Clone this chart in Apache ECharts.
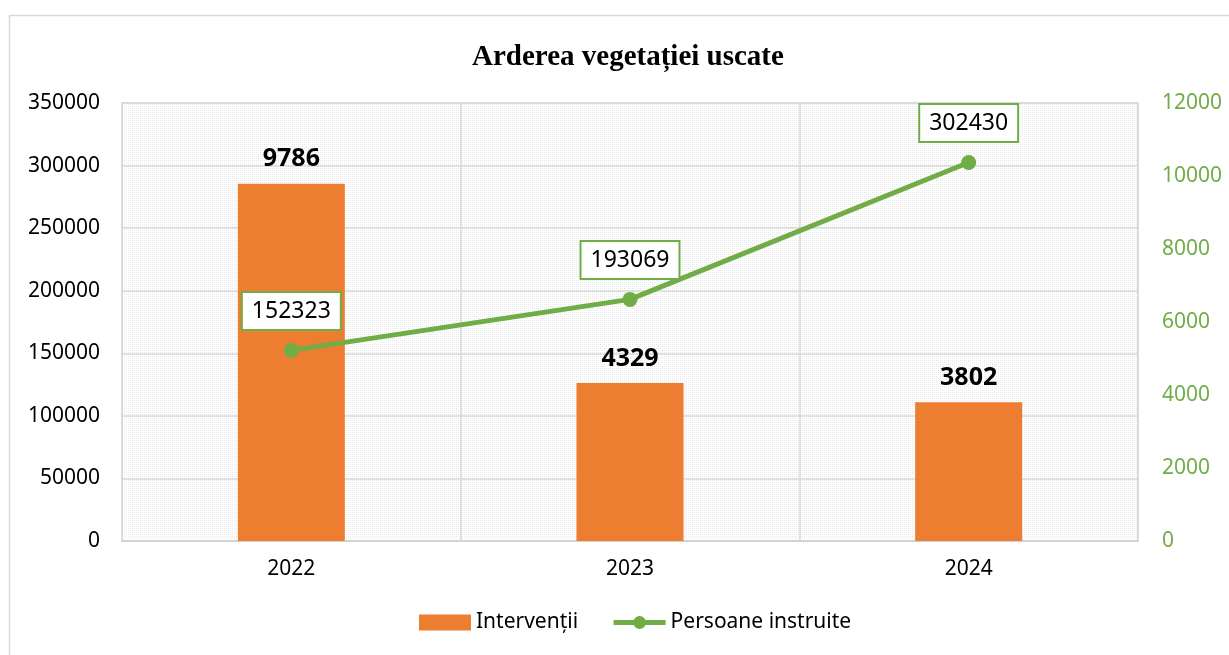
<!DOCTYPE html>
<html>
<head>
<meta charset="utf-8">
<script src="https://cdn.jsdelivr.net/npm/echarts@6/dist/echarts.min.js"></script>
<style>
  html, body {margin: 0; padding: 0; background: #fff;}
  #chart {width: 1229px; height: 655px;}
</style>
</head>
<body>
<div id="chart"></div>
<script>
// date
const years = ['2022', '2023', '2024']
const interventii = [9786, 4329, 3802]
const persoane = [152323, 193069, 302430]

// fundalul hașurat al zonei de plotare
const pat = document.createElement('canvas')
pat.width = 4
pat.height = 4
const ctx = pat.getContext('2d')
ctx.fillStyle = '#ffffff'
ctx.fillRect(0, 0, 4, 4)
ctx.fillStyle = '#e4e4e4'
ctx.fillRect(0, 0, 1, 1)
ctx.fillRect(2, 2, 1, 1)
ctx.fillStyle = '#eeeeee'
ctx.fillRect(2, 0, 1, 1)
ctx.fillRect(0, 2, 1, 1)

const font = 'Noto Sans'
const plain = (v) => String(v)
const chart = echarts.init(document.getElementById('chart'))
chart.setOption({
  backgroundColor: '#fff',
  graphic: [{
    type: 'rect',
    shape: {x: 9.5, y: 15.5, width: 1230, height: 660},
    style: {fill: 'none', stroke: '#d9d9d9', lineWidth: 1.5},
    silent: true,
  }],
  title: {
    text: 'Arderea vegetației uscate',
    left: 467,
    top: 38,
    textStyle: {fontFamily: 'Liberation Serif', fontSize: 29, fontWeight: 'bold', color: '#000'},
  },
  legend: {
    bottom: 17,
    left: 414,
    itemWidth: 52,
    itemHeight: 16,
    itemGap: 33,
    textStyle: {fontFamily: font, fontSize: 21, color: '#000'},
    data: [
      {name: 'Intervenții', icon: 'rect'},
      {name: 'Persoane instruite', lineStyle: {width: 5}},
    ],
  },
  grid: {
    left: 122,
    right: 91,
    top: 103,
    bottom: 114,
    show: true,
    backgroundColor: {image: pat, repeat: 'repeat'},
    borderColor: '#d9d9d9',
    borderWidth: 1.5,
  },
  xAxis: {
    type: 'category',
    data: years,
    axisLine: {lineStyle: {color: '#d0d0d0', width: 1.5}},
    axisTick: {show: false},
    splitLine: {show: true, lineStyle: {color: '#d9d9d9', width: 1.5}},
    axisLabel: {fontFamily: font, fontSize: 21, color: '#000', margin: 18},
  },
  yAxis: [
    {
      type: 'value',
      min: 0,
      max: 350000,
      interval: 50000,
      axisLine: {show: false},
      axisTick: {show: false},
      splitLine: {lineStyle: {color: '#d9d9d9', width: 1.5}},
      axisLabel: {fontFamily: font, fontSize: 21, color: '#000', margin: 22, formatter: plain},
    },
    {
      type: 'value',
      min: 0,
      max: 12000,
      interval: 2000,
      axisLine: {show: false},
      axisTick: {show: false},
      splitLine: {show: false},
      axisLabel: {fontFamily: font, fontSize: 21, color: '#70AD47', margin: 24, formatter: plain},
    },
  ],
  series: [
    {
      name: 'Intervenții',
      type: 'bar',
      yAxisIndex: 1,
      data: interventii,
      barWidth: 107,
      itemStyle: {color: '#ED7D31'},
      label: {
        show: true,
        position: 'top',
        distance: 12,
        fontFamily: font,
        fontSize: 25,
        fontWeight: 'bold',
        color: '#000',
      },
    },
    {
      name: 'Persoane instruite',
      type: 'line',
      yAxisIndex: 0,
      data: persoane,
      symbol: 'circle',
      symbolSize: 15,
      lineStyle: {color: '#70AD47', width: 5},
      itemStyle: {color: '#70AD47'},
      label: {
        show: true,
        position: 'top',
        distance: 14,
        fontFamily: font,
        fontSize: 23,
        color: '#000',
        backgroundColor: '#fff',
        borderColor: '#70AD47',
        borderWidth: 2,
        padding: [7, 9, 6, 9],
      },
    },
  ],
})
</script>
</body>
</html>
